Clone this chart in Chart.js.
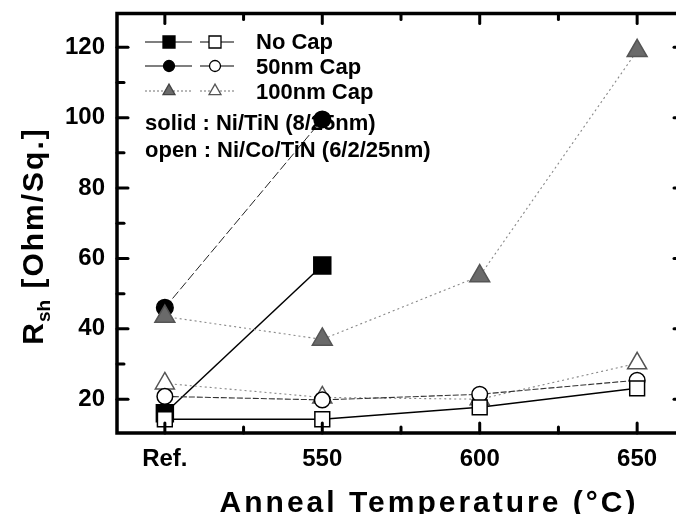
<!DOCTYPE html>
<html>
<head>
<meta charset="utf-8">
<script src="https://cdn.jsdelivr.net/npm/chart.js@4.4.0/dist/chart.umd.min.js"></script>
<style>
  html, body { margin: 0; padding: 0; background: #fff; overflow: hidden; }
  canvas { display: block; }
</style>
</head>
<body>
<canvas id="rshChart" width="676" height="514"></canvas>
<script>
// x axis: anneal temperature, "Ref." sits one step before 550
var tempLabels = ['Ref.', '550', '600', '650'];
var tempPos = [500, 550, 600, 650];
var yTicks = [20, 40, 60, 80, 100, 120];

// solid : Ni/TiN (8/25nm)
var noCapSolid = [16, 58, null, null];
var cap50Solid = [46, 99.5, null, null];
var cap100Solid = [43.5, 37, 55, 119];
// open : Ni/Co/TiN (6/2/25nm)
var noCapOpen = [14.3, 14.3, 17.7, 23.1];
var cap50Open = [20.8, 19.8, 21.4, 25.4];
var cap100Open = [24.5, 20.5, 20, 30.2];

var FONT = "'Liberation Sans', Arial, sans-serif";
var TRI_GRAY = '#6a6a6a';
var PLOT_RIGHT = 685; // right axis of the scan sits just past the page edge

function pts(vals) {
  var out = [];
  for (var i = 0; i < vals.length; i++) {
    if (vals[i] !== null) out.push({ x: tempPos[i], y: vals[i] });
  }
  return out;
}

function series(label, vals, style) {
  var ds = {
    label: label,
    data: pts(vals),
    borderColor: '#000',
    borderWidth: 1.5,
    pointBorderWidth: 1.5,
    tension: 0
  };
  for (var k in style) ds[k] = style[k];
  return ds;
}

// small marker painter for the legend
function marker(ctx, kind, x, y, r, filled) {
  ctx.save();
  ctx.beginPath();
  if (kind === 'rect') {
    ctx.rect(x - r, y - r, 2 * r, 2 * r);
  } else if (kind === 'circle') {
    ctx.arc(x, y, r, 0, Math.PI * 2);
  } else {
    ctx.moveTo(x, y - r * 1.15);
    ctx.lineTo(x + r, y + r * 0.6);
    ctx.lineTo(x - r, y + r * 0.6);
    ctx.closePath();
  }
  if (kind === 'triangle') {
    ctx.fillStyle = filled ? TRI_GRAY : '#fff';
    ctx.strokeStyle = filled ? '#444' : '#555';
  } else {
    ctx.fillStyle = filled ? '#000' : '#fff';
    ctx.strokeStyle = '#000';
  }
  ctx.lineWidth = 1.3;
  ctx.fill();
  ctx.stroke();
  ctx.restore();
}

var framePlugin = {
  id: 'frame',
  afterLayout: function (chart) {
    // stretch the plot past the canvas edge so the right axis is cut off
    var xs = chart.scales.x;
    chart.chartArea.right = PLOT_RIGHT;
    chart.chartArea.width = PLOT_RIGHT - chart.chartArea.left;
    xs.right = PLOT_RIGHT;
    xs.width = PLOT_RIGHT - xs.left;
    xs.configure();
  },
  afterDraw: function (chart) {
    var ctx = chart.ctx;
    var a = chart.chartArea;
    var xs = chart.scales.x, ys = chart.scales.y;
    ctx.save();
    ctx.strokeStyle = '#000';
    ctx.lineCap = 'round';

    // inward ticks
    ctx.lineWidth = 3;
    function vtick(px, len) {
      ctx.beginPath(); ctx.moveTo(px, a.bottom); ctx.lineTo(px, a.bottom - len); ctx.stroke();
      ctx.beginPath(); ctx.moveTo(px, a.top); ctx.lineTo(px, a.top + len); ctx.stroke();
    }
    function htick(py, len) {
      ctx.beginPath(); ctx.moveTo(a.left, py); ctx.lineTo(a.left + len, py); ctx.stroke();
      ctx.beginPath(); ctx.moveTo(a.right, py); ctx.lineTo(a.right - len, py); ctx.stroke();
    }
    for (var t = 500; t <= 650; t += 25) {
      vtick(xs.getPixelForValue(t), t % 50 === 0 ? 10 : 6);
    }
    for (var v = 20; v <= 120; v += 10) {
      htick(ys.getPixelForValue(v), v % 20 === 0 ? 11 : 7);
    }

    // frame
    ctx.lineWidth = 3.5;
    ctx.lineCap = 'butt';
    ctx.strokeRect(a.left, a.top, a.right - a.left, a.bottom - a.top);

    // x title
    ctx.fillStyle = '#000';
    ctx.font = 'bold 30px ' + FONT;
    ctx.letterSpacing = '3px';
    ctx.textAlign = 'center';
    ctx.textBaseline = 'alphabetic';
    ctx.fillText('Anneal Temperature (\u00B0C)', 429, 512);

    // y title with subscript
    ctx.save();
    ctx.translate(43, 236);
    ctx.rotate(-Math.PI / 2);
    ctx.textAlign = 'left';
    var big = 'bold 30px ' + FONT, small = 'bold 19px ' + FONT;
    ctx.letterSpacing = '0px';
    ctx.font = big; var w1 = ctx.measureText('R').width;
    ctx.font = small; var w2 = ctx.measureText('sh').width + 2;
    ctx.letterSpacing = '2px';
    ctx.font = big; var w3 = ctx.measureText(' [Ohm/Sq.]').width;
    var x0 = -(w1 + w2 + w3) / 2;
    ctx.letterSpacing = '0px';
    ctx.font = big; ctx.fillText('R', x0, 0);
    ctx.font = small; ctx.fillText('sh', x0 + w1 + 1, 7);
    ctx.letterSpacing = '2px';
    ctx.font = big; ctx.fillText(' [Ohm/Sq.]', x0 + w1 + w2, 0);
    ctx.restore();

    // legend box inside the plot
    ctx.letterSpacing = '0px';
    var rows = [
      { kind: 'rect', r: 6, text: 'No Cap', y: 42, base: 49, color: '#000', dash: [] },
      { kind: 'circle', r: 5.5, text: '50nm Cap', y: 66, base: 74, color: '#000', dash: [] },
      { kind: 'triangle', r: 6, text: '100nm Cap', y: 91, base: 99, color: '#888', dash: [2, 2] }
    ];
    ctx.font = 'bold 22px ' + FONT;
    ctx.textAlign = 'left';
    ctx.textBaseline = 'alphabetic';
    rows.forEach(function (r) {
      ctx.save();
      ctx.strokeStyle = r.color;
      ctx.lineWidth = 1.2;
      ctx.setLineDash(r.dash);
      ctx.beginPath(); ctx.moveTo(145, r.y); ctx.lineTo(192, r.y); ctx.stroke();
      ctx.beginPath(); ctx.moveTo(200, r.y); ctx.lineTo(234, r.y); ctx.stroke();
      ctx.restore();
      marker(ctx, r.kind, 169, r.y, r.r, true);
      marker(ctx, r.kind, 215, r.y, r.r, false);
      ctx.fillStyle = '#000';
      ctx.fillText(r.text, 256, r.base);
    });
    ctx.fillText('solid : Ni/TiN (8/25nm)', 145, 130);
    ctx.fillText('open : Ni/Co/TiN (6/2/25nm)', 145, 157);
    ctx.restore();
  }
};

function noLabelPadding(s) {
  s.paddingTop = 0; s.paddingBottom = 0;
  s.paddingLeft = 0; s.paddingRight = 0;
}

var ctx = document.getElementById('rshChart').getContext('2d');
var rshChart = new Chart(ctx, {
  type: 'line',
  data: {
    datasets: [
      series('No Cap open', noCapOpen, {
        pointStyle: 'rect', pointRadius: 10.5, pointBackgroundColor: '#fff', pointBorderColor: '#000', order: 1
      }),
      series('50nm Cap open', cap50Open, {
        pointStyle: 'circle', pointRadius: 7.8, pointBackgroundColor: '#fff', pointBorderColor: '#000',
        borderWidth: 1.1, borderColor: '#333', borderDash: [6, 2], order: 2
      }),
      series('100nm Cap open', cap100Open, {
        pointStyle: 'triangle', pointRadius: 11, pointBackgroundColor: '#fff', pointBorderColor: '#555',
        borderWidth: 1.1, borderColor: '#888', borderDash: [2, 3], order: 3
      }),
      series('100nm Cap solid', cap100Solid, {
        pointStyle: 'triangle', pointRadius: 11.5, pointBackgroundColor: TRI_GRAY, pointBorderColor: '#555',
        borderWidth: 1.1, borderColor: '#888', borderDash: [2, 3], order: 4
      }),
      series('No Cap solid', noCapSolid, {
        pointStyle: 'rect', pointRadius: 12, pointBackgroundColor: '#000', pointBorderColor: '#000', order: 5
      }),
      series('50nm Cap solid', cap50Solid, {
        pointStyle: 'circle', pointRadius: 8.3, pointBackgroundColor: '#000', pointBorderColor: '#000',
        borderWidth: 1, borderColor: '#222', borderDash: [9, 3], order: 6
      })
    ]
  },
  options: {
    responsive: false,
    animation: false,
    layout: { padding: { left: 0, top: 10, right: 5, bottom: 0 } },
    plugins: { legend: { display: false }, tooltip: { enabled: false } },
    scales: {
      x: {
        type: 'linear',
        min: 484.8,
        max: 665.2,
        afterFit: function (s) { s.height = 81; noLabelPadding(s); },
        afterBuildTicks: function (s) {
          s.ticks = tempPos.map(function (p) { return { value: p }; });
        },
        grid: { display: false, drawTicks: false },
        border: { display: false },
        ticks: {
          padding: 12,
          color: '#000',
          font: { family: FONT, size: 24, weight: 'bold' },
          maxRotation: 0,
          callback: function (value) {
            var i = tempPos.indexOf(value);
            return i >= 0 ? tempLabels[i] : '';
          }
        }
      },
      y: {
        min: 10.4,
        max: 129.6,
        afterFit: function (s) { s.width = 117; noLabelPadding(s); },
        afterBuildTicks: function (s) {
          s.ticks = yTicks.map(function (v) { return { value: v }; });
        },
        grid: { display: false, drawTicks: false },
        border: { display: false },
        ticks: {
          padding: 12,
          color: '#000',
          font: { family: FONT, size: 24, weight: 'bold' }
        }
      }
    }
  },
  plugins: [framePlugin]
});
</script>
</body>
</html>
